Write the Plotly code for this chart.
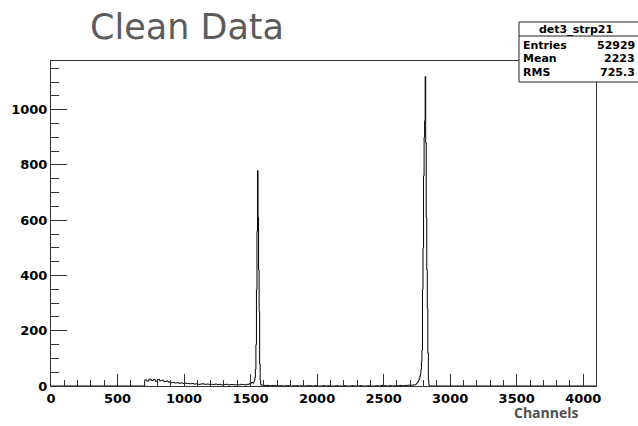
import plotly.graph_objects as go

# ---------------- data ----------------
# background region, bin width 16 channels, first bin starts at 704
bg_start = 704
bg_width = 16
bg_counts = [22, 18, 25, 20, 23, 17, 24, 19, 21, 16, 18,
             14, 12, 13, 11, 12, 10, 11, 9, 10, 9,
             8, 9, 7, 8, 6, 7, 8, 6, 7, 6,
             6, 5, 7, 5, 6, 4, 5, 6, 4, 5,
             5, 4, 5, 4, 6, 5, 4, 6, 8, 12]

# first peak, bin width 4 channels, first bin starts at 1520
p1_start = 1520
p1_width = 4
p1_counts = [10, 15, 20, 30, 60, 150, 350, 560, 780, 610, 420, 270, 80, 20, 5]

# flat region between peaks, bin width 20, starts at 1580
mid_start = 1580
mid_width = 20
mid_counts = [3, 2, 2, 1, 2, 1, 1, 1, 0, 1, 1, 0, 1, 1, 0, 1, 0, 1, 1, 0,
              1, 0, 0, 1, 0, 1, 0, 0, 1, 0, 0, 1, 0, 0, 1, 0, 0, 1, 0, 0,
              1, 0, 0, 1, 0, 2, 1, 0, 1, 0, 1, 1, 2, 1, 2, 3, 3, 4]

# second peak, bin width 4, starts at 2740
p2_start = 2740
p2_width = 4
p2_counts = [5, 8, 10, 12, 15, 18, 22, 28, 35, 45, 60, 90, 130, 350, 500,
             760, 900, 960, 1120, 880, 610, 420, 280, 120, 20, 3]

# stats box
stats_title = "det3_strp21"
stats_names = ["Entries", "Mean", "RMS"]
stats_values = ["52929", "2223", "725.3"]

x_ticks = [0, 500, 1000, 1500, 2000, 2500, 3000, 3500, 4000]
y_ticks = [0, 200, 400, 600, 800, 1000]

# ---------------- build step histogram ----------------
xs, ys = [0], [0]
def add_segment(start, width, counts):
    for i, c in enumerate(counts):
        xs.append(start + i * width)
        ys.append(c)

add_segment(bg_start, bg_width, bg_counts)
add_segment(p1_start, p1_width, p1_counts)
add_segment(mid_start, mid_width, mid_counts)
add_segment(p2_start, p2_width, p2_counts)
xs.append(p2_start + len(p2_counts) * p2_width)
ys.append(0)
xs.append(4096)
ys.append(0)

W, H = 638, 426
# plot frame in page pixels
L, R, T, B = 51, 596, 61, 386

def px(x):
    return (x - L) / (R - L)

def py(y):
    return (B - y) / (B - T)

fig = go.Figure()
fig.add_trace(go.Scatter(x=xs, y=ys, mode="lines", line=dict(color="black", width=1, shape="hv"),
                         hoverinfo="skip", showlegend=False))

tickfont = dict(family="DejaVu Sans", size=13, color="black", weight="bold")
fig.update_layout(
    width=W, height=H,
    margin=dict(l=L, r=W - R, t=T, b=H - B, pad=0),
    paper_bgcolor="white", plot_bgcolor="white",
    showlegend=False,
    xaxis=dict(range=[0, 4096], showgrid=False, zeroline=False,
               showline=True, linecolor="#333", linewidth=1, mirror=True,
               tickvals=x_ticks, ticks="inside", ticklen=12, tickcolor="#333",
               tickfont=tickfont, minor=dict(dtick=100, ticks="inside", ticklen=6, tickcolor="#333")),
    yaxis=dict(range=[0, 1176], showgrid=False, zeroline=False,
               showline=True, linecolor="#333", linewidth=1, mirror=True,
               tickvals=y_ticks, ticks="inside", ticklen=16, tickcolor="#333",
               tickfont=tickfont, minor=dict(dtick=50, ticks="inside", ticklen=8, tickcolor="#333")),
)

# stats box
bx0, bx1, by0, by1 = 519, 645, 22, 82
fig.add_shape(type="rect", xref="paper", yref="paper",
              x0=px(bx0), x1=px(bx1), y0=py(by1), y1=py(by0),
              line=dict(color="#222", width=1), fillcolor="white", layer="above")
fig.add_shape(type="line", xref="paper", yref="paper",
              x0=px(bx0), x1=px(bx1), y0=py(36), y1=py(36),
              line=dict(color="#222", width=1), layer="above")
statfont = dict(family="DejaVu Sans", size=11, color="black", weight="bold")
fig.add_annotation(xref="paper", yref="paper", x=px(576), y=py(29), text=stats_title,
                   showarrow=False, font=statfont, xanchor="center", yanchor="middle")
for i, (n, v) in enumerate(zip(stats_names, stats_values)):
    yy = py(46 + 13 * i)
    fig.add_annotation(xref="paper", yref="paper", x=px(521), y=yy, text=n,
                       showarrow=False, font=statfont, xanchor="left", yanchor="middle")
    fig.add_annotation(xref="paper", yref="paper", x=px(637), y=yy, text=v,
                       showarrow=False, font=statfont, xanchor="right", yanchor="middle")

# title
fig.add_annotation(xref="paper", yref="paper", x=px(88), y=py(27), text="Clean Data",
                   showarrow=False, font=dict(family="DejaVu Sans", size=35, color="#5c5c5c"),
                   xanchor="left", yanchor="middle")
# x axis label
fig.add_annotation(xref="paper", yref="paper", x=px(581), y=py(412), text="Channels",
                   showarrow=False, font=dict(family="Open Sans", size=14, color="#505050", weight="bold"),
                   xanchor="right", yanchor="middle")

fig.write_html("out.html", config={"displayModeBar": False},
               post_script="document.body.style.margin='0';document.body.style.overflow='hidden';")
